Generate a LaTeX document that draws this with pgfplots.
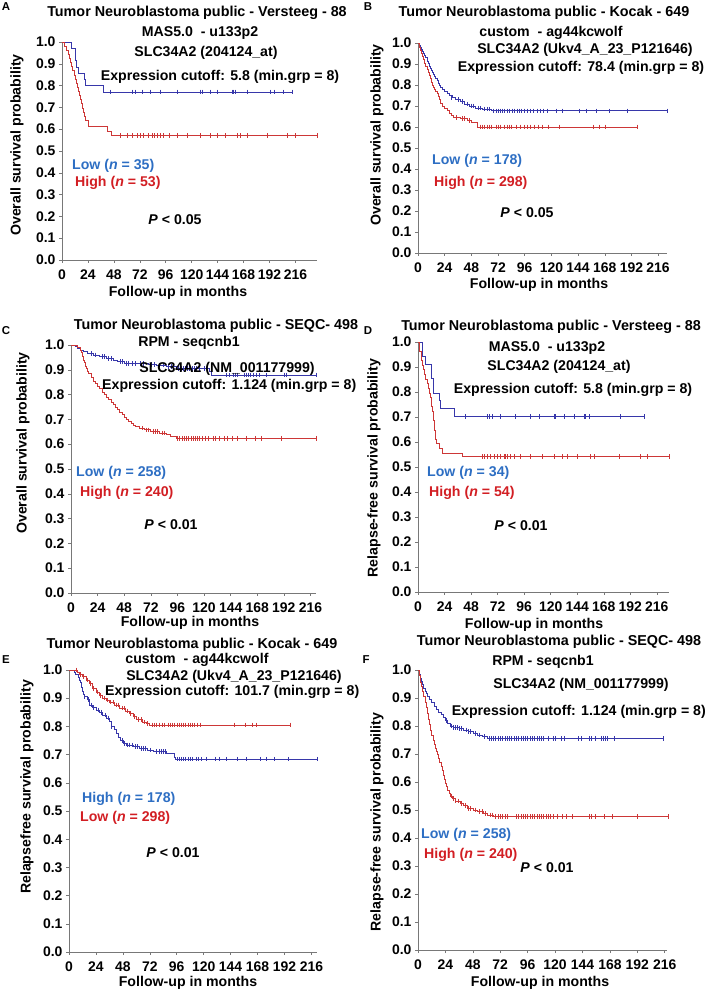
\documentclass[border=0pt]{standalone}
\usepackage{fontspec}
\setmainfont{Liberation Sans}
\usepackage{pgfplots}
\pgfplotsset{compat=1.18}
\definecolor{kmb}{RGB}{55,55,170}
\definecolor{kmr}{RGB}{205,55,55}
\definecolor{txb}{RGB}{45,110,195}
\definecolor{txr}{RGB}{210,30,35}
\definecolor{axg}{RGB}{120,120,120}
\newcommand\tf{\fontsize{14.2}{16}\selectfont\bfseries}
\newcommand\ttl{\fontsize{14.4}{16}\selectfont\bfseries}
\pgfplotsset{km/.style={
  scale only axis, anchor=south west,
  axis x line=bottom, axis y line=left,
  axis line style={-,draw=axg,line width=0.6bp},
  xmin=0, ymin=0, ymax=1,
  xtick={0,24,48,72,96,120,144,168,192,216},
  ytick={0,0.1,0.2,0.3,0.4,0.5,0.6,0.7,0.8,0.9,1},
  tick style={draw=axg,line width=0.5bp},
  tick align=outside, major tick length=3bp,
  yticklabel style={font=\fontsize{14}{14}\selectfont\bfseries},
  xticklabel style={font=\fontsize{14}{14}\selectfont\bfseries, yshift=-3bp},
  /pgf/number format/assume math mode=true,
  yticklabel style={/pgf/number format/fixed,/pgf/number format/fixed zerofill,/pgf/number format/precision=1},
  clip=false},
 lb/.style={const plot, color=kmb, line width=0.65bp, mark=none},
 lr/.style={const plot, color=kmr, line width=0.65bp, mark=none},
 cb/.style={only marks, mark=|, color=kmb, mark size=2.3bp, mark options={line width=0.45bp}},
 cr/.style={only marks, mark=|, color=kmr, mark size=2.3bp, mark options={line width=0.45bp}}}
\begin{document}
\begin{tikzpicture}
\useasboundingbox (0,0) rectangle (709bp,991bp);
% ---------------- A
\begin{axis}[km, at={(62bp,731bp)}, width=255bp, height=218bp, xmax=236]
\addplot[lb] coordinates {(0,1)(9,0.971)(12,0.943)(12.5,0.914)(13,0.886)(15,0.857)(21,0.829)(22,0.800)(38,0.771)(213,0.771)};
\addplot[cb] coordinates {(44.8,0.771)(64.8,0.771)(67.9,0.771)(74,0.771)(81.8,0.771)(91,0.771)(106.5,0.771)(128,0.771)(129.6,0.771)(137.3,0.771)(143.5,0.771)(157.4,0.771)(158.9,0.771)(160.5,0.771)(171.3,0.771)(193,0.771)(196,0.771)(205,0.771)(213,0.771)};
\addplot[lr] coordinates {(0,1)(2,0.981)(4,0.962)(6,0.943)(7,0.925)(8,0.906)(9,0.887)(10,0.868)(11,0.849)(12,0.830)(13,0.811)(14,0.792)(15,0.774)(16,0.755)(17,0.736)(18,0.717)(19,0.698)(20,0.679)(21,0.660)(22,0.642)(24,0.611)(42,0.591)(46,0.571)(236,0.571)};
\addplot[cr] coordinates {(54,0.571)(60,0.571)(64.8,0.571)(69.4,0.571)(72.5,0.571)(75.6,0.571)(80.2,0.571)(83.3,0.571)(84.9,0.571)(88,0.571)(91,0.571)(94.1,0.571)(98.8,0.571)(106.5,0.571)(115.7,0.571)(128,0.571)(137.3,0.571)(143.5,0.571)(151.2,0.571)(162,0.571)(165,0.571)(171.3,0.571)(189.8,0.571)(208.3,0.571)(216,0.571)(236,0.571)};
\end{axis}
% ---------------- B
\begin{axis}[km, at={(418bp,738bp)}, width=249bp, height=210bp, xmax=224]
\addplot[lb] coordinates {(0,1)(1,0.99)(2,0.98)(3,0.97)(4,0.96)(5,0.95)(6,0.94)(7,0.93)(8,0.915)(9,0.905)(10,0.89)(11,0.88)(12,0.87)(13,0.86)(14,0.85)(15,0.84)(16,0.83)(17,0.82)(18,0.81)(19,0.80)(20,0.79)(22,0.78)(24,0.77)(26,0.76)(28,0.75)(31,0.74)(34,0.73)(38,0.72)(42,0.71)(46,0.70)(52,0.69)(58,0.685)(66,0.677)(224,0.677)};
\addplot[cb] coordinates {(30,0.74)(36,0.73)(40,0.72)(44,0.71)(48,0.70)(50,0.70)(54,0.69)(56,0.69)(60,0.685)(62,0.685)(64,0.685)(68,0.677)(70,0.677)(72,0.677)(74,0.677)(76,0.677)(78,0.677)(80,0.677)(82,0.677)(85,0.677)(87,0.677)(89,0.677)(91,0.677)(93,0.677)(96,0.677)(98,0.677)(101,0.677)(104,0.677)(107,0.677)(110,0.677)(113,0.677)(116,0.677)(124,0.677)(130,0.677)(145,0.677)(151,0.677)(160,0.677)(172,0.677)(188,0.677)(224,0.677)};
\addplot[lr] coordinates {(0,1)(1,0.98)(2,0.965)(3,0.95)(4,0.935)(5,0.92)(6,0.905)(7,0.89)(8,0.875)(9,0.86)(10,0.845)(11,0.83)(12,0.815)(13,0.80)(14,0.79)(15,0.78)(16,0.77)(17,0.76)(18,0.745)(19,0.73)(20,0.715)(22,0.70)(24,0.69)(26,0.68)(28,0.665)(30,0.655)(32,0.645)(38,0.64)(44,0.63)(48,0.62)(53,0.60)(197,0.60)};
\addplot[cr] coordinates {(34,0.645)(40,0.64)(42,0.64)(46,0.63)(56,0.60)(58,0.60)(60,0.60)(62,0.60)(64,0.60)(66,0.60)(70,0.60)(72,0.60)(74,0.60)(78,0.60)(80,0.60)(82,0.60)(84,0.60)(88,0.60)(92,0.60)(96,0.60)(98,0.60)(101,0.60)(105,0.60)(108,0.60)(112,0.60)(117,0.60)(127,0.60)(158,0.60)(163,0.60)(168,0.60)(197,0.60)};
\end{axis}
% ---------------- C
\begin{axis}[km, at={(71bp,398bp)}, width=245bp, height=248bp, xmax=221]
\addplot[lb] coordinates {(0,1)(4,0.996)(6,0.988)(8,0.98)(11,0.973)(15,0.965)(20,0.96)(26,0.953)(32,0.946)(38,0.94)(42,0.933)(48,0.926)(70,0.922)(77,0.919)(86,0.913)(95,0.906)(125,0.893)(127,0.879)(221,0.879)};
\addplot[cb] coordinates {(18,0.965)(22,0.96)(28,0.953)(30,0.953)(34,0.946)(36,0.946)(44,0.933)(46,0.933)(50,0.926)(52,0.926)(55,0.926)(58,0.926)(62,0.926)(65,0.926)(72,0.922)(75,0.922)(80,0.919)(83,0.919)(88,0.913)(90,0.913)(92,0.913)(97,0.906)(99,0.906)(101,0.906)(103,0.906)(105,0.906)(107,0.906)(109,0.906)(111,0.906)(113,0.906)(116,0.906)(120,0.906)(140,0.879)(143,0.879)(146,0.879)(148,0.879)(150,0.879)(156,0.879)(158,0.879)(160,0.879)(162,0.879)(164,0.879)(167,0.879)(170,0.879)(176,0.879)(192,0.879)(194,0.879)(221,0.879)};
\addplot[lr] coordinates {(0,1)(6,0.992)(8,0.98)(9,0.97)(10,0.955)(11,0.94)(12,0.93)(13,0.915)(14,0.905)(15,0.895)(16,0.885)(18,0.87)(20,0.855)(22,0.845)(24,0.835)(26,0.825)(28,0.81)(30,0.80)(32,0.79)(34,0.78)(36,0.77)(38,0.76)(40,0.75)(42,0.74)(44,0.73)(46,0.72)(48,0.71)(50,0.70)(52,0.693)(54,0.685)(56,0.678)(58,0.672)(62,0.665)(66,0.658)(72,0.652)(80,0.645)(86,0.64)(90,0.632)(95,0.624)(221,0.624)};
\addplot[cr] coordinates {(64,0.665)(68,0.658)(70,0.658)(74,0.652)(76,0.652)(78,0.652)(82,0.645)(84,0.645)(96,0.624)(98,0.624)(100,0.624)(102,0.624)(104,0.624)(106,0.624)(108,0.624)(110,0.624)(112,0.624)(114,0.624)(116,0.624)(118,0.624)(121,0.624)(124,0.624)(128,0.624)(130,0.624)(134,0.624)(138,0.624)(141,0.624)(145,0.624)(150,0.624)(158,0.624)(166,0.624)(172,0.624)(190,0.624)(221,0.624)};
\end{axis}
% ---------------- D
\begin{axis}[km, at={(418bp,399bp)}, width=251bp, height=250bp, xmax=227]
\addplot[lb] coordinates {(0,1)(4,0.941)(7,0.912)(12,0.853)(14,0.794)(19,0.765)(20,0.735)(33,0.702)(204,0.702)};
\addplot[cb] coordinates {(43,0.702)(62.7,0.702)(64.2,0.702)(67.2,0.702)(74.7,0.702)(88.3,0.702)(101.8,0.702)(109.3,0.702)(122.9,0.702)(124.4,0.702)(131.9,0.702)(141,0.702)(150,0.702)(151.5,0.702)(154.5,0.702)(183.1,0.702)(204.2,0.702)};
\addplot[lr] coordinates {(0,1)(1.5,0.963)(3,0.926)(4,0.907)(5,0.889)(6,0.87)(7,0.852)(8,0.833)(9,0.815)(10,0.796)(11,0.778)(12,0.741)(13,0.722)(14,0.685)(15,0.648)(16,0.611)(17,0.593)(19,0.574)(22,0.556)(40,0.542)(227,0.542)};
\addplot[cr] coordinates {(58.1,0.542)(59.6,0.542)(62.7,0.542)(65.7,0.542)(68.7,0.542)(71.7,0.542)(74.7,0.542)(77.7,0.542)(79.2,0.542)(80.7,0.542)(83.7,0.542)(86.7,0.542)(92.8,0.542)(101.8,0.542)(112.3,0.542)(122.9,0.542)(130.4,0.542)(134.9,0.542)(143.9,0.542)(156,0.542)(159,0.542)(181.6,0.542)(201.2,0.542)(207.2,0.542)(226.8,0.542)};
\end{axis}
% ---------------- E
\begin{axis}[km, at={(69bp,39bp)}, width=248bp, height=282bp, xmax=221]
\addplot[lb] coordinates {(0,1)(5,0.993)(6,0.985)(8,0.975)(9,0.965)(10,0.955)(11,0.94)(12,0.925)(13,0.915)(14,0.905)(16,0.895)(18,0.876)(21,0.866)(24,0.858)(27,0.85)(30,0.84)(33,0.83)(36,0.817)(38,0.80)(40,0.79)(42,0.775)(44,0.76)(46,0.75)(48,0.74)(51,0.734)(57,0.728)(63,0.722)(70,0.716)(75,0.71)(87,0.704)(94,0.69)(95,0.684)(221,0.684)};
\addplot[cb] coordinates {(14,0.905)(17,0.895)(20,0.876)(22,0.866)(26,0.858)(29,0.85)(32,0.84)(35,0.83)(38,0.80)(47,0.75)(49,0.74)(52,0.734)(54,0.734)(56,0.734)(59,0.728)(61,0.728)(64,0.722)(66,0.722)(68,0.722)(72,0.716)(78,0.71)(80,0.71)(82,0.71)(84,0.71)(86,0.71)(96,0.684)(98,0.684)(100,0.684)(102,0.684)(104,0.684)(106,0.684)(108,0.684)(110,0.684)(113,0.684)(115,0.684)(118,0.684)(122,0.684)(130,0.684)(134,0.684)(140,0.684)(150,0.684)(158,0.684)(170,0.684)(176,0.684)(183,0.684)(195,0.684)(221,0.684)};
\addplot[lr] coordinates {(0,1)(7,0.993)(9,0.985)(12,0.978)(15,0.965)(18,0.952)(21,0.935)(24,0.922)(27,0.91)(30,0.9)(33,0.893)(36,0.886)(40,0.876)(45,0.865)(50,0.855)(54,0.845)(57,0.835)(60,0.825)(65,0.815)(69,0.81)(72,0.805)(197,0.805)};
\addplot[cr] coordinates {(6,1.0)(10,0.985)(13,0.978)(16,0.965)(19,0.952)(22,0.935)(25,0.922)(28,0.91)(31,0.9)(34,0.893)(37,0.886)(39,0.886)(42,0.876)(44,0.876)(47,0.865)(49,0.865)(52,0.855)(55,0.845)(58,0.835)(62,0.825)(64,0.825)(67,0.815)(70,0.81)(74,0.805)(76,0.805)(78,0.805)(80,0.805)(83,0.805)(85,0.805)(88,0.805)(90,0.805)(92,0.805)(94,0.805)(96,0.805)(98,0.805)(100,0.805)(102,0.805)(104,0.805)(106,0.805)(108,0.805)(110,0.805)(112,0.805)(114,0.805)(117,0.805)(147,0.805)(157,0.805)(163,0.805)(167,0.805)(197,0.805)};
\end{axis}
% ---------------- F
\begin{axis}[km, at={(418bp,41bp)}, width=249bp, height=280bp, xmax=218]
\addplot[lb] coordinates {(0,1)(1,0.985)(2,0.97)(3,0.96)(4,0.95)(5,0.935)(6,0.925)(7,0.915)(8,0.905)(10,0.895)(12,0.885)(14,0.87)(16,0.86)(18,0.85)(20,0.84)(22,0.83)(24,0.82)(26,0.81)(28,0.80)(31,0.795)(36,0.792)(40,0.786)(44,0.78)(48,0.774)(52,0.768)(56,0.762)(61,0.756)(215,0.756)};
\addplot[cb] coordinates {(25,0.82)(29,0.80)(31,0.795)(33,0.795)(34,0.795)(36,0.792)(38,0.792)(42,0.786)(44,0.78)(46,0.78)(50,0.774)(54,0.768)(58,0.762)(62,0.756)(64,0.756)(66,0.756)(68,0.756)(70,0.756)(72,0.756)(74,0.756)(76,0.756)(78,0.756)(80,0.756)(82,0.756)(84,0.756)(86,0.756)(88,0.756)(90,0.756)(92,0.756)(94,0.756)(96,0.756)(98,0.756)(100,0.756)(102,0.756)(104,0.756)(106,0.756)(108,0.756)(110,0.756)(114,0.756)(118,0.756)(120,0.756)(125,0.756)(128,0.756)(140,0.756)(143,0.756)(150,0.756)(152,0.756)(155,0.756)(160,0.756)(162,0.756)(164,0.756)(166,0.756)(172,0.756)(215,0.756)};
\addplot[lr] coordinates {(0,1)(1,0.98)(2,0.955)(3,0.94)(4,0.925)(5,0.905)(6,0.885)(7,0.865)(8,0.845)(9,0.825)(10,0.805)(11,0.786)(12,0.765)(13,0.75)(14,0.735)(15,0.72)(16,0.71)(17,0.70)(18,0.685)(19,0.67)(20,0.655)(21,0.64)(22,0.625)(23,0.61)(24,0.597)(25,0.585)(26,0.572)(27,0.56)(28,0.55)(30,0.54)(33,0.532)(37,0.524)(40,0.515)(43,0.506)(48,0.5)(52,0.494)(57,0.488)(61,0.482)(66,0.476)(219,0.476)};
\addplot[cr] coordinates {(29,0.55)(31,0.54)(33,0.532)(35,0.532)(38,0.524)(41,0.515)(44,0.506)(46,0.506)(50,0.5)(54,0.494)(56,0.494)(59,0.488)(63,0.482)(65,0.482)(68,0.476)(70,0.476)(72,0.476)(74,0.476)(76,0.476)(78,0.476)(86,0.476)(88,0.476)(90,0.476)(92,0.476)(94,0.476)(96,0.476)(98,0.476)(100,0.476)(102,0.476)(104,0.476)(106,0.476)(108,0.476)(110,0.476)(112,0.476)(114,0.476)(116,0.476)(118,0.476)(122,0.476)(126,0.476)(130,0.476)(135,0.476)(150,0.476)(152,0.476)(155,0.476)(163,0.476)(170,0.476)(192,0.476)(219,0.476)};
\end{axis}
% ---------------- texts
\begin{scope}[every node/.style={font=\tf, inner sep=0pt}]
% panel letters
\node[font=\fontsize{11.5}{12}\selectfont\bfseries] at (6bp,984bp) {A};
\node[font=\fontsize{11.5}{12}\selectfont\bfseries] at (368bp,984bp) {B};
\node[font=\fontsize{11.5}{12}\selectfont\bfseries] at (6bp,660bp) {C};
\node[font=\fontsize{11.5}{12}\selectfont\bfseries] at (368bp,660bp) {D};
\node[font=\fontsize{11.5}{12}\selectfont\bfseries] at (6bp,331bp) {E};
\node[font=\fontsize{11.5}{12}\selectfont\bfseries] at (366bp,331bp) {F};
% titles
\node[font=\ttl] at (197bp,978bp) {Tumor Neuroblastoma public - Versteeg - 88};
\node[font=\ttl] at (544bp,978bp) {Tumor Neuroblastoma public - Kocak - 649};
\node[font=\ttl] at (216bp,665bp) {Tumor Neuroblastoma public - SEQC- 498};
\node[font=\ttl] at (551bp,664bp) {Tumor Neuroblastoma public - Versteeg - 88};
\node[font=\ttl] at (192bp,346bp) {Tumor Neuroblastoma public - Kocak - 649};
\node[font=\ttl] at (559bp,349bp) {Tumor Neuroblastoma public - SEQC- 498};
% x labels
\node at (178bp,698bp) {Follow-up in months};
\node at (539bp,706bp) {Follow-up in months};
\node at (190bp,368bp) {Follow-up in months};
\node at (534bp,366bp) {Follow-up in months};
\node at (188bp,8bp) {Follow-up in months};
\node at (540bp,8bp) {Follow-up in months};
% y labels
\node[rotate=90] at (17bp,846bp) {Overall survival probability};
\node[rotate=90] at (377bp,856bp) {Overall survival probability};
\node[rotate=90] at (23bp,548bp) {Overall survival probability};
\node[rotate=90] at (374bp,523bp) {Relapse-free survival probability};
\node[rotate=90] at (27bp,204bp) {Relapsefree survival probability};
\node[rotate=90] at (377bp,169bp) {Relapse-free survival probability};
% A annotations
\node at (200bp,958bp) {MAS5.0\ \ - u133p2};
\node at (206bp,938bp) {SLC34A2 (204124\_at)};
\node at (220bp,914bp) {Expression cutoff: 5.8 (min.grp = 8)};
\node[anchor=west,text=txb] at (72bp,825bp) {Low (\textit{n} = 35)};
\node[anchor=west,text=txr] at (75bp,808bp) {High (\textit{n} = 53)};
\node at (175bp,771bp) {\textit{P} < 0.05};
% B annotations
\node at (551bp,958bp) {custom\ \ - ag44kcwolf};
\node at (585bp,941bp) {SLC34A2 (Ukv4\_A\_23\_P121646)};
\node at (581bp,923bp) {Expression cutoff: 78.4 (min.grp = 8)};
\node[anchor=west,text=txb] at (432bp,830bp) {Low (\textit{n} = 178)};
\node[anchor=west,text=txr] at (434bp,808bp) {High (\textit{n} = 298)};
\node at (527bp,778bp) {\textit{P} < 0.05};
% C annotations
\node at (189bp,648bp) {RPM - seqcnb1};
\node at (227bp,622bp) {SLC34A2 (NM\_001177999)};
\node[anchor=west] at (102bp,605bp) {Expression cutoff: 1.124 (min.grp = 8)};
\node[anchor=west,text=txb] at (76bp,518bp) {Low (\textit{n} = 258)};
\node[anchor=west,text=txr] at (80bp,498bp) {High (\textit{n} = 240)};
\node at (171bp,466bp) {\textit{P} < 0.01};
% D annotations
\node at (547bp,643bp) {MAS5.0\ \ - u133p2};
\node at (559bp,624bp) {SLC34A2 (204124\_at)};
\node at (573bp,601bp) {Expression cutoff: 5.8 (min.grp = 8)};
\node[anchor=west,text=txb] at (427bp,518bp) {Low (\textit{n} = 34)};
\node[anchor=west,text=txr] at (429bp,498bp) {High (\textit{n} = 54)};
\node at (521bp,465bp) {\textit{P} < 0.01};
% E annotations
\node at (197bp,331bp) {custom\ \ - ag44kcwolf};
\node at (234bp,314bp) {SLC34A2 (Ukv4\_A\_23\_P121646)};
\node[anchor=west] at (105bp,299bp) {Expression cutoff: 101.7 (min.grp = 8)};
\node[anchor=west,text=txb] at (82bp,192bp) {High (\textit{n} = 178)};
\node[anchor=west,text=txr] at (80bp,173bp) {Low (\textit{n} = 298)};
\node at (173bp,138bp) {\textit{P} < 0.01};
% F annotations
\node at (543bp,329bp) {RPM - seqcnb1};
\node at (581bp,306bp) {SLC34A2 (NM\_001177999)};
\node[anchor=east] at (706bp,279bp) {Expression cutoff: 1.124 (min.grp = 8)};
\node[anchor=west,text=txb] at (421bp,156bp) {Low (\textit{n} = 258)};
\node[anchor=west,text=txr] at (424bp,136bp) {High (\textit{n} = 240)};
\node at (547bp,123bp) {\textit{P} < 0.01};
\end{scope}
\end{tikzpicture}
\end{document}
